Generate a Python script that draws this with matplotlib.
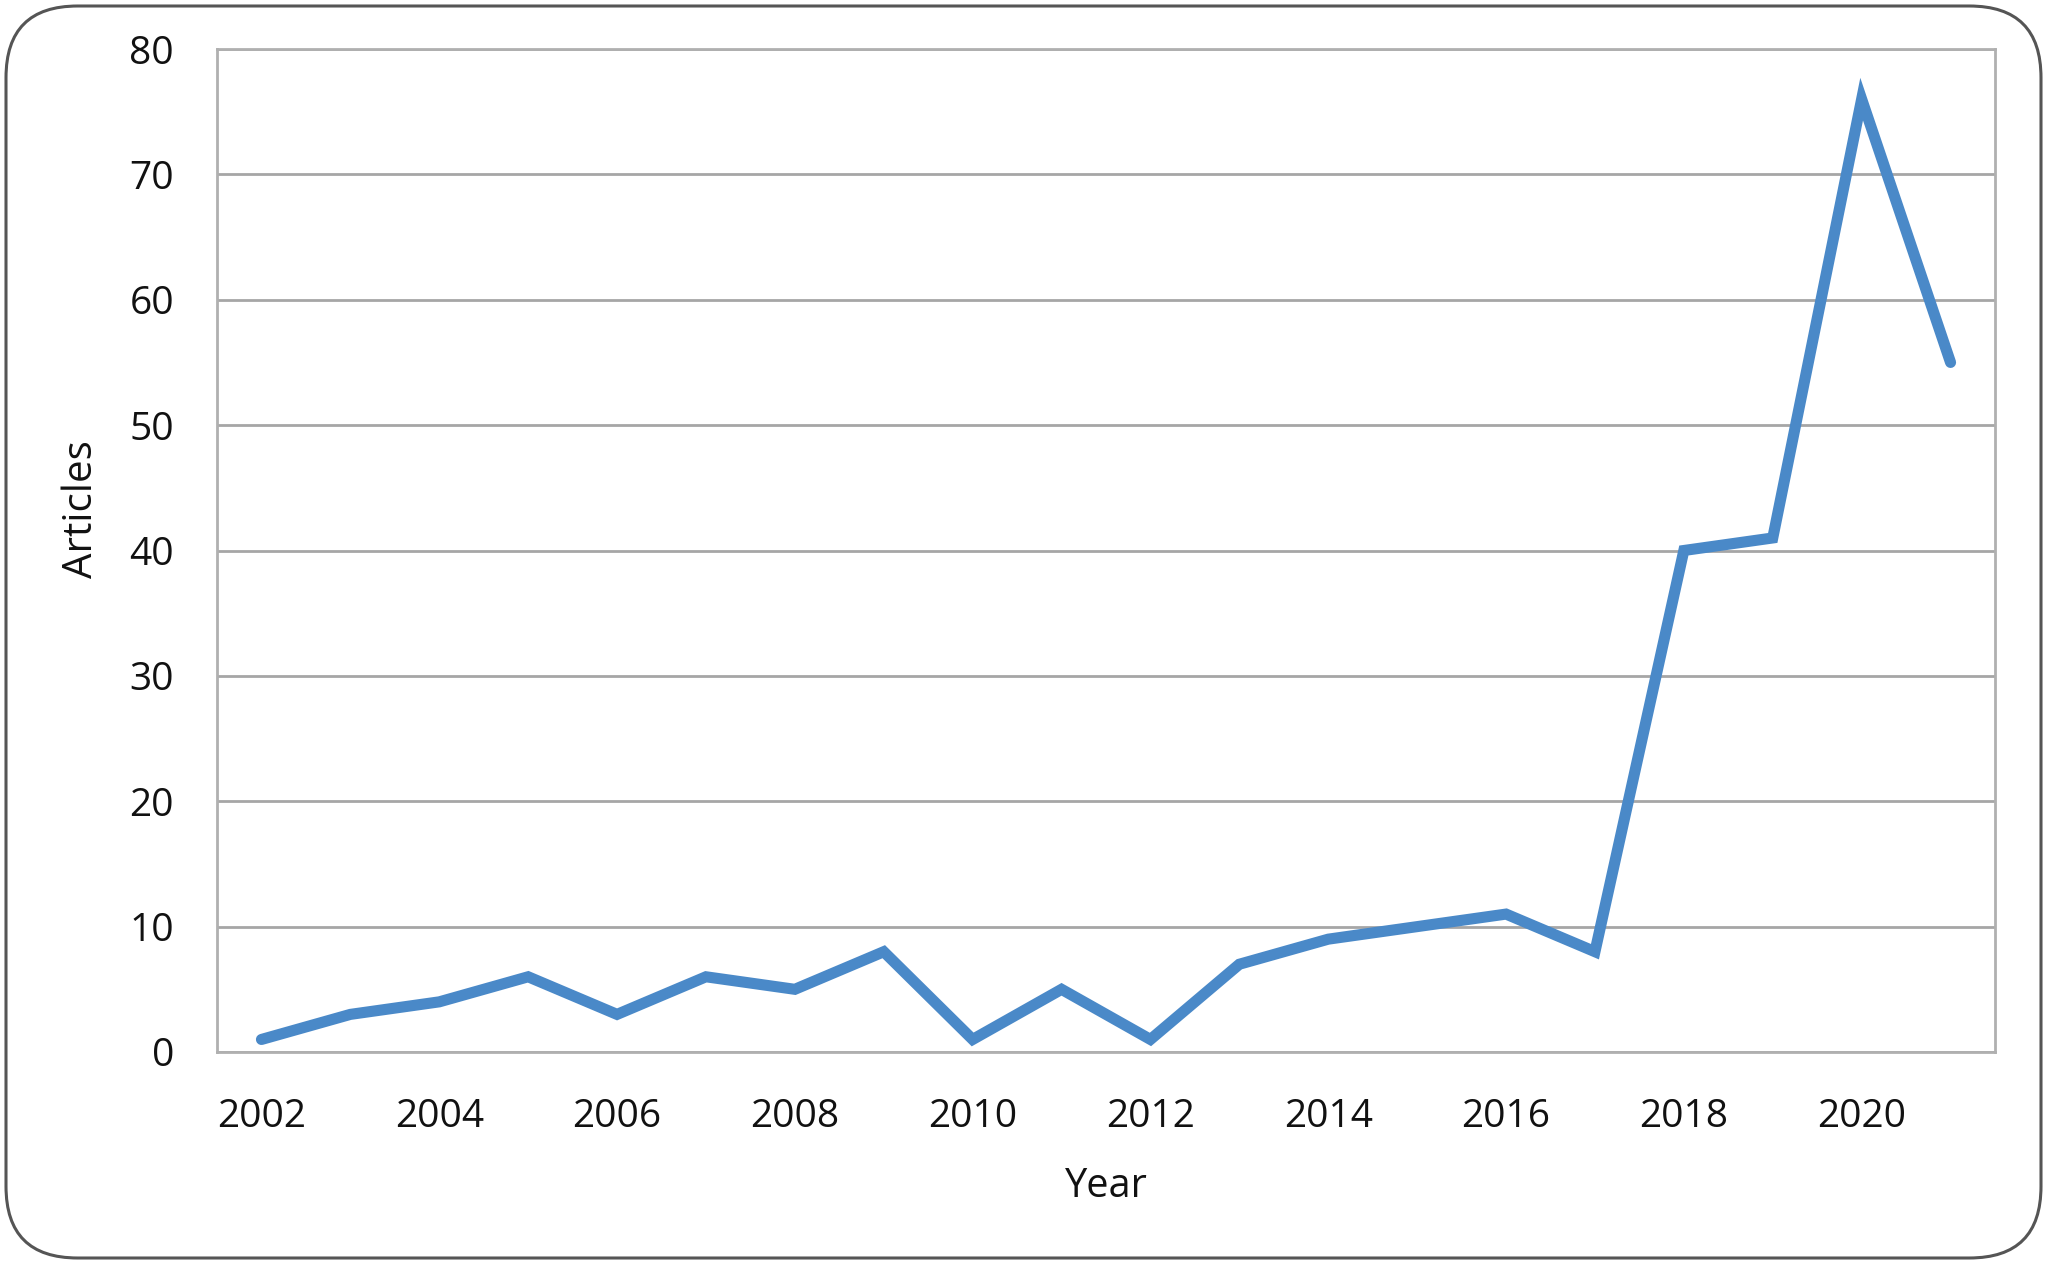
import matplotlib.pyplot as plt
from matplotlib.patches import FancyBboxPatch

# Data
years = list(range(2002, 2022))
articles = [1, 3, 4, 6, 3, 6, 5, 8, 1, 5, 1, 7, 9, 10, 11, 8, 40, 41, 76, 55]
tick_years = list(range(2002, 2022, 2))
y_ticks = list(range(0, 81, 10))

plt.rcParams['font.family'] = ['Open Sans', 'DejaVu Sans']

fig = plt.figure(figsize=(20.47, 12.64), dpi=100)
ax = fig.add_axes([217 / 2047, 1 - 1052 / 1264, (1995 - 217) / 2047, (1052 - 49) / 1264])

# Rounded outer border
border = FancyBboxPatch((6 / 2047, 6 / 1264), 1 - 12 / 2047, 1 - 12 / 1264,
                        boxstyle="round,pad=0,rounding_size=0.035",
                        transform=fig.transFigure, fill=False,
                        edgecolor='#555555', linewidth=2.2, mutation_aspect=2047 / 1264)
fig.patches.append(border)

ax.plot(years, articles, color='#4A89C8', linewidth=8, solid_joinstyle='miter',
        solid_capstyle='round', zorder=3)

ax.set_xlim(2001.5, 2021.5)
ax.set_ylim(0, 80)
ax.set_xticks(tick_years)
ax.set_yticks(y_ticks)
ax.tick_params(axis='both', length=0, labelsize=28, colors='#111111')
ax.tick_params(axis='y', pad=31)
ax.tick_params(axis='x', pad=33)

ax.grid(axis='y', color='#A6A6A6', linewidth=2, zorder=1)
for s in ax.spines.values():
    s.set_color('#B0B0B0')
    s.set_linewidth(2)

ax.set_xlabel('Year', fontsize=28.5, labelpad=22, color='#111111')
ax.set_ylabel('Articles', fontsize=29, color='#111111')
ax.yaxis.set_label_coords(-0.0645, 0.541)

plt.savefig('out.png', dpi=100)
